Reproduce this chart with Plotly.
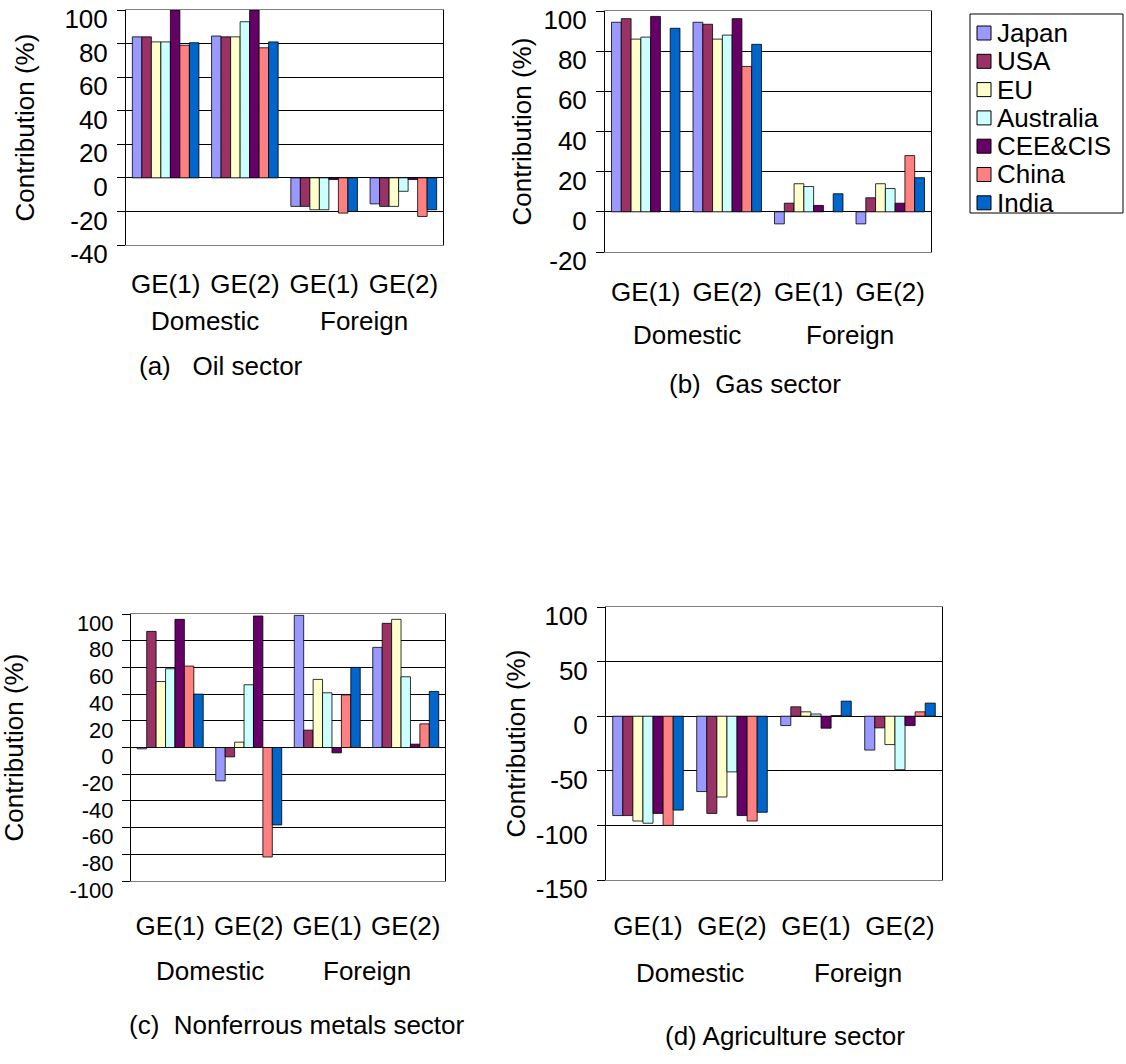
import plotly.graph_objects as go

# ---------------- data ----------------
countries = ["Japan", "USA", "EU", "Australia", "CEE&CIS", "China", "India"]
colors = ["#9999FF", "#993366", "#FFFFCC", "#CCFFFF", "#660066", "#FF8080", "#0066CC"]
cat_labels = ["GE(1)", "GE(2)", "GE(1)", "GE(2)"]
group_labels = ["Domestic", "Foreign"]

# values per country: [Domestic GE(1), Domestic GE(2), Foreign GE(1), Foreign GE(2)]
oil = {
    "Japan":     [84, 84.5, -17, -15.5],
    "USA":       [84, 84, -17, -17],
    "EU":        [81, 84, -19, -17],
    "Australia": [81, 93, -19, -8],
    "CEE&CIS":   [100, 100, -1, -1],
    "China":     [79, 77.5, -21, -23],
    "India":     [80.5, 81, -20, -19],
}
gas = {
    "Japan":     [94.4, 94.4, -6, -6],
    "USA":       [96.2, 93.4, 4.3, 7],
    "EU":        [86, 86, 14, 14],
    "Australia": [87, 88, 12.6, 11.6],
    "CEE&CIS":   [97.3, 96.2, 3.2, 4.3],
    "China":     [None, 72.4, None, 28],
    "India":     [91.4, 83.4, 9, 17],
}
nonferrous = {
    "Japan":     [-1, -25, 99, 75],
    "USA":       [87, -7, 13, 93],
    "EU":        [49.4, 4, 51, 96],
    "Australia": [59, 47, 41, 53],
    "CEE&CIS":   [96, 98.5, -4, 2.5],
    "China":     [61, -82, 39.4, 17.7],
    "India":     [40, -58, 60, 42],
}
agriculture = {
    "Japan":     [-91, -69, -8.6, -31],
    "USA":       [-91, -89, 8.6, -10.7],
    "EU":        [-96, -74, 4, -26],
    "Australia": [-98, -51, 2, -49],
    "CEE&CIS":   [-89, -91, -11, -8.6],
    "China":     [-100, -96, 0.6, 4],
    "India":     [-86, -88, 13.8, 12],
}

oil_yticks = [-40, -20, 0, 20, 40, 60, 80, 100]
gas_yticks = [-20, 0, 20, 40, 60, 80, 100]
nonferrous_yticks = [-100, -80, -60, -40, -20, 0, 20, 40, 60, 80, 100]
agriculture_yticks = [-150, -100, -50, 0, 50, 100]

captions = ["(a)&nbsp;&nbsp; Oil sector", "(b)&nbsp; Gas sector",
            "(c)&nbsp; Nonferrous metals sector", "(d) Agriculture sector"]
ytitle = "Contribution (%)"

panels = [
    dict(data=oil, caption=captions[0], yticks=oil_yticks, ytickfs=26),
    dict(data=gas, caption=captions[1], yticks=gas_yticks, ytickfs=26),
    dict(data=nonferrous, caption=captions[2], yticks=nonferrous_yticks, ytickfs=22),
    dict(data=agriculture, caption=captions[3], yticks=agriculture_yticks, ytickfs=26),
]

# ---------------- layout geometry (pixels) ----------------
W, H = 1126, 1064
FONT = "Liberation Sans, Arial, sans-serif"
FS = 26

# plot area boxes: (left, right, top, bottom) in px
boxes = [(126, 443, 10, 245), (605, 931, 11, 252), (131, 445, 614, 881), (606, 942, 607, 880)]
tick_len_x = [16, 17, 22, 23]
ytitle_x = [25, 522, 13, 515]
group_y = [321, 335, 971, 973]
caption_pos = [(221, 366), (755, 384), (297, 1025), (785, 1036)]

fig = go.Figure()
annotations = []
shapes = []

for p, panel in enumerate(panels):
    sfx = "" if p == 0 else str(p + 1)
    for i, c in enumerate(countries):
        fig.add_trace(go.Bar(
            x=[0, 1, 2, 3], y=panel["data"][c], name=c,
            marker=dict(color=colors[i], line=dict(color="#000000", width=0.8)),
            xaxis="x" + sfx, yaxis="y" + sfx,
            showlegend=False,
        ))
    l, r, t, b = boxes[p]
    xdom = [l / W, r / W]
    ydom = [1 - b / H, 1 - t / H]
    yt = panel["yticks"]
    fig.update_layout(**{
        "xaxis" + sfx: dict(
            domain=xdom, anchor="y" + sfx, range=[-0.5, 3.5], automargin=False,
            tickmode="array", tickvals=[0, 1, 2, 3], ticktext=cat_labels,
            ticks="outside", ticklen=tick_len_x[p], tickcolor="rgba(0,0,0,0)",
            showline=True, linecolor="#808080", linewidth=1, mirror=True,
            showgrid=False, zeroline=False, ticklabeloverflow="allow",
            tickfont=dict(family=FONT, size=FS, color="#000"),
        ),
        "yaxis" + sfx: dict(
            domain=ydom, anchor="x" + sfx, range=[yt[0], yt[-1]], automargin=False,
            tickmode="array", tickvals=yt, ticktext=[str(v) for v in yt],
            ticks="outside", ticklen=8, tickcolor="#000", tickwidth=1,
            ticklabeloverflow="allow", ticklabelshift=9, ticklabelstandoff=4,
            showline=True, linecolor="#000", linewidth=1, mirror=True,
            showgrid=True, gridcolor="#000", gridwidth=1,
            zeroline=True, zerolinecolor="#000", zerolinewidth=1,
            tickfont=dict(family=FONT, size=panel["ytickfs"], color="#000"),
        ),
    })
    annotations.append(dict(
        text=ytitle, textangle=-90, showarrow=False,
        xref="paper", yref="paper", x=ytitle_x[p] / W, y=1 - (t + b) / 2 / H,
        xanchor="center", yanchor="middle",
        font=dict(family=FONT, size=FS, color="#000"),
    ))
    for g, gl in enumerate(group_labels):
        annotations.append(dict(
            text=gl, showarrow=False,
            xref="x" + sfx, yref="paper", x=0.5 + 2 * g, y=1 - group_y[p] / H,
            xanchor="center", yanchor="middle",
            font=dict(family=FONT, size=FS, color="#000"),
        ))
    cx, cy = caption_pos[p]
    annotations.append(dict(
        text=panel["caption"], showarrow=False,
        xref="paper", yref="paper", x=cx / W, y=1 - cy / H,
        xanchor="center", yanchor="middle",
        font=dict(family=FONT, size=FS, color="#000"),
    ))

# ---------------- legend (boxed, compact like the original) ----------------
LEG_L, LEG_R, LEG_T, LEG_B = 970, 1123, 14, 213
shapes.append(dict(type="rect", xref="paper", yref="paper",
                   x0=LEG_L / W, x1=LEG_R / W, y0=1 - LEG_B / H, y1=1 - LEG_T / H,
                   line=dict(color="#000", width=1), fillcolor="white", layer="below"))
for k, (c, col) in enumerate(zip(countries, colors)):
    yc = 33 + 28.3 * k
    shapes.append(dict(type="rect", xref="paper", yref="paper",
                       x0=977 / W, x1=991 / W, y0=1 - (yc + 7) / H, y1=1 - (yc - 7) / H,
                       line=dict(color="#000", width=1), fillcolor=col))
    annotations.append(dict(
        text=c, showarrow=False, xref="paper", yref="paper",
        x=995 / W, y=1 - yc / H, xanchor="left", yanchor="middle",
        font=dict(family=FONT, size=FS, color="#000"),
    ))

fig.update_layout(
    width=W, height=H,
    margin=dict(l=0, r=0, t=0, b=0),
    paper_bgcolor="white", plot_bgcolor="white",
    barmode="group", bargap=0.16, bargroupgap=0,
    annotations=annotations, shapes=shapes,
    showlegend=False,
    font=dict(family=FONT, size=FS, color="#000"),
)

fig.write_html("out.html")
